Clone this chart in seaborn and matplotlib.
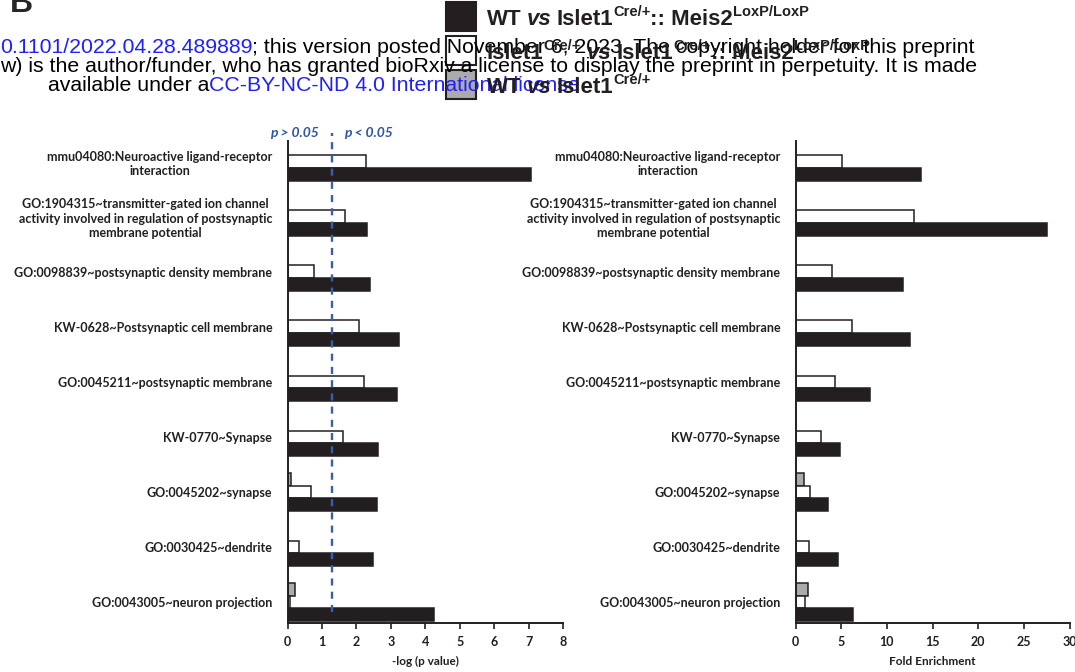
# GO / KEGG enrichment: -log(p) და fold enrichment, სამი შედარება
import numpy as np
import pandas as pd
import matplotlib
matplotlib.use("Agg")
import matplotlib.pyplot as plt
import matplotlib.transforms as mtransforms
from matplotlib.patches import Rectangle
import seaborn as sns

W, H = 1075, 672

terms = [
    "mmu04080:Neuroactive ligand-receptor\ninteraction",
    "GO:1904315~transmitter-gated ion channel\nactivity involved in regulation of postsynaptic\nmembrane potential",
    "GO:0098839~postsynaptic density membrane",
    "KW-0628~Postsynaptic cell membrane",
    "GO:0045211~postsynaptic membrane",
    "KW-0770~Synapse",
    "GO:0045202~synapse",
    "GO:0030425~dendrite",
    "GO:0043005~neuron projection",
]

# -log(p value)
logp_wt_mut = [7.07, 2.32, 2.39, 3.25, 3.19, 2.62, 2.59, 2.47, 4.24]
logp_het_mut = [2.27, 1.68, 0.76, 2.08, 2.23, 1.60, 0.68, 0.33, 0.07]
logp_wt_het = [np.nan, np.nan, np.nan, np.nan, np.nan, np.nan, 0.10, np.nan, 0.21]

# fold enrichment
fold_wt_mut = [13.7, 27.5, 11.8, 12.5, 8.2, 4.9, 3.6, 4.6, 6.3]
fold_het_mut = [5.1, 13.0, 4.0, 6.2, 4.3, 2.8, 1.6, 1.5, 1.0]
fold_wt_het = [np.nan, np.nan, np.nan, np.nan, np.nan, np.nan, 0.95, np.nan, 1.35]

hue_order = ["wt_het", "het_mut", "wt_mut"]   # ზემოდან ქვემოთ
palette = {"wt_het": "#ababab", "het_mut": "#ffffff", "wt_mut": "#231f20"}

DARK = "#231f20"
BLUE_LINE = "#3c5ea8"
BLUE_TXT = "#2f55a4"
LINK = "#1f1fff"


def long_table(wt_mut, het_mut, wt_het):
    rows = []
    for key, vals in zip(["wt_mut", "het_mut", "wt_het"], [wt_mut, het_mut, wt_het]):
        for term, v in zip(terms, vals):
            if not np.isnan(v):
                rows.append({"term": term, "group": key, "value": v})
    return pd.DataFrame(rows)


def draw_runs(fig, x, base, runs, renderer):
    # ტექსტის ნაწილები ერთმანეთის მიყოლებით (ფერი/სტილი/ზედა ინდექსი)
    out = []
    for txt, style in runs:
        style = dict(style)
        gap = style.pop("gap", 0)
        rise = style.pop("rise", 0)
        x += gap
        t = fig.text(x / W, 1 - (base - rise) / H, txt, va="baseline", ha="left", **style)
        x = t.get_window_extent(renderer).x1
        out.append(t)
    return x, out


sns.set_theme(style="ticks")
plt.rcParams["font.family"] = ["Lato", "DejaVu Sans"]

fig = plt.figure(figsize=(W / 100, H / 100), dpi=100)
renderer = fig.canvas.get_renderer()

ax_bottom = 1 - 623 / H
ax_h = 482.3 / H
ax1 = fig.add_axes([287.5 / W, ax_bottom, 275.5 / W, ax_h])
ax2 = fig.add_axes([795.5 / W, ax_bottom, 274 / W, ax_h])

panels = [
    (ax1, long_table(logp_wt_mut, logp_het_mut, logp_wt_het), 8, "-log (p value)"),
    (ax2, long_table(fold_wt_mut, fold_het_mut, fold_wt_het), 30, "Fold Enrichment"),
]

for ax, df, xmax, xlabel in panels:
    sns.barplot(data=df, x="value", y="term", hue="group", order=terms,
                hue_order=hue_order, palette=palette, saturation=1,
                width=0.69, edgecolor=DARK, linewidth=1.1, orient="h",
                errorbar=None, legend=False, ax=ax)
    ax.set_ylim(8.38, -0.38)
    ax.set_xlim(0, xmax)
    step = 1 if xmax == 8 else 5
    ax.set_xticks(np.arange(0, xmax + 1, step))
    ax.set_ylabel("")
    ax.set_xlabel(xlabel, fontsize=8.5, fontweight="bold", color=DARK, labelpad=6)
    sns.despine(ax=ax)
    for s in ["left", "bottom"]:
        ax.spines[s].set_color(DARK)
        ax.spines[s].set_linewidth(1.4)
    ax.tick_params(axis="y", length=0, pad=11)
    ax.tick_params(axis="x", length=4, width=1.2, color=DARK, pad=5,
                   labelsize=9, labelcolor=DARK)
    for lab in ax.get_xticklabels():
        lab.set_fontweight("bold")
    for lab in ax.get_yticklabels():
        lab.set_fontweight("bold")
        lab.set_fontsize(9)
        lab.set_color(DARK)
        lab.set_multialignment("center")
        lab.set_linespacing(1.25)
    ax.set_facecolor("none")

# p = 0.05 ზღვარი
cut = -np.log10(0.05)
tr = mtransforms.blended_transform_factory(ax1.transData, ax1.transAxes)
ax1.plot([cut, cut], [0.023, 1.016], transform=tr, color=BLUE_LINE, lw=1.7,
         dashes=(3.0, 2.6), clip_on=False, zorder=5)
ax1.text(cut - 0.38, 1.017, "p > 0.05", transform=tr, ha="right", va="center",
         fontsize=10, fontweight="bold", fontstyle="italic", color=BLUE_TXT)
ax1.text(cut + 0.35, 1.017, "p < 0.05", transform=tr, ha="left", va="center",
         fontsize=10, fontweight="bold", fontstyle="italic", color=BLUE_TXT)

# პანელის ასო (ნაწილობრივ ჩამოჭრილი)
fig.text(10 / W, 1 - 12 / H, "B", fontsize=23, fontweight="bold",
         family=["Liberation Sans", "DejaVu Sans"], va="baseline", ha="left")

# bioRxiv-ის სათაური, რომელიც ლეგენდას ედება
hdr = {"family": ["Liberation Sans", "DejaVu Sans"]}
line1 = [("0.1101/2022.04.28.489889", {**hdr, "color": LINK}),
         ("; this version posted November 6, 2023. The copyright holder for this preprint",
          {**hdr, "color": "black"})]
line2 = [("w) is the author/funder, who has granted bioRxiv a license to display the preprint in perpetuity. It is made",
          {**hdr, "color": "black"})]
line3 = [("available under a", {**hdr, "color": "black"}),
         ("CC-BY-NC-ND 4.0 International license", {**hdr, "color": LINK}),
         (".", {**hdr, "color": "black"})]

size0 = 15.0
end, tmp = draw_runs(fig, 0, 53, [(t, {**s, "fontsize": size0}) for t, s in line1], renderer)
for t in tmp:
    t.remove()
hsize = size0 * 978 / end
for x0, base, line in [(0, 53, line1), (0, 72, line2), (47.7, 91, line3)]:
    draw_runs(fig, x0, base, [(t, {**s, "fontsize": hsize}) for t, s in line], renderer)

# ლეგენდა
leg_colors = [palette["wt_mut"], palette["het_mut"], palette["wt_het"]]
leg_tops = [2, 36, 70]
leg_bases = [25, 59, 93]
lf = {"family": ["Liberation Sans", "DejaVu Sans"], "fontweight": "bold", "color": DARK}
big = {**lf, "fontsize": 16}
it = {**big, "fontstyle": "italic", "gap": 5}
sup = {**lf, "fontsize": 10.5, "rise": 9}
leg_labels = [
    [("WT", big), ("vs", it), ("Islet1", {**big, "gap": 5}), ("Cre/+", sup),
     (":: Meis2", big), ("LoxP/LoxP", sup)],
    [("Islet1", big), ("Cre/+", sup), ("vs", {**it, "gap": 6}), ("Islet1", {**big, "gap": 5}),
     ("Cre/+", sup), (":: Meis2", big), ("LoxP/LoxP", sup)],
    [("WT", big), ("vs", it), ("Islet1", {**big, "gap": 5}), ("Cre/+", sup)],
]
for col, top, base, runs in zip(leg_colors, leg_tops, leg_bases, leg_labels):
    fig.add_artist(Rectangle((446 / W, 1 - (top + 29) / H), 30 / W, 29 / H,
                             transform=fig.transFigure, facecolor=col,
                             edgecolor=DARK, linewidth=1.5))
    draw_runs(fig, 487, base, runs, renderer)

fig.savefig("out.png", dpi=100)
